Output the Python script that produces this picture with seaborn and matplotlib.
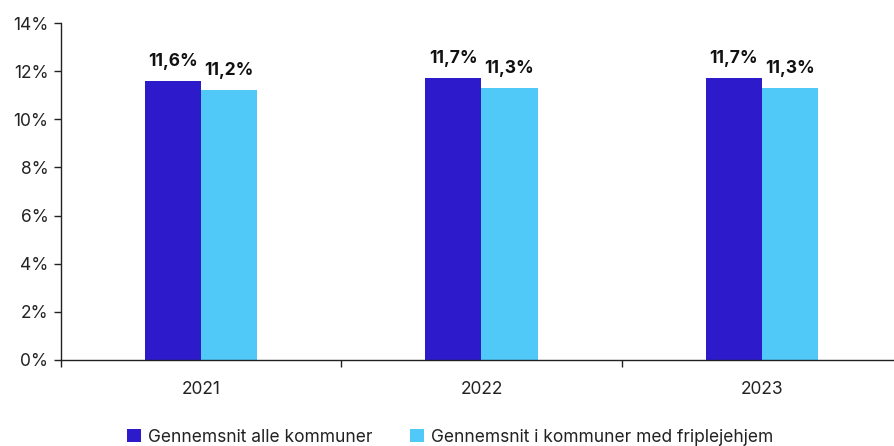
import matplotlib
matplotlib.use("Agg")
import matplotlib.pyplot as plt
import seaborn as sns
import pandas as pd
from matplotlib.ticker import FuncFormatter, FixedLocator
from matplotlib.patches import Patch

years = ["2021", "2022", "2023"]
series_names = ["Gennemsnit alle kommuner", "Gennemsnit i kommuner med friplejehjem"]
alle = [11.6, 11.7, 11.7]
fripleje = [11.2, 11.3, 11.3]
colors = ["#2C1ACB", "#50C9F9"]

sns.set_theme(style="white")
plt.rcParams["font.family"] = ["Inter", "DejaVu Sans"]

df = pd.DataFrame({
    "year": years * 2,
    "serie": [series_names[0]] * 3 + [series_names[1]] * 3,
    "value": alle + fripleje,
})

fig = plt.figure(figsize=(8.95, 4.46), dpi=100)
ax = fig.add_axes([61 / 895, 86 / 446, (902 - 61) / 895, (360 - 23) / 446])
sns.barplot(data=df, x="year", y="value", hue="serie", palette=colors,
            width=0.4, gap=0, saturation=1, ax=ax, legend=False, linewidth=0)

ax.set_ylim(0, 14)
ax.set_xlim(-0.5, 2.5)
ax.set_yticks(range(0, 15, 2))
ax.yaxis.set_major_formatter(FuncFormatter(lambda v, p: f"{int(v)}%"))
ax.set_xlabel("")
ax.set_ylabel("")
for s in ["top", "right"]:
    ax.spines[s].set_visible(False)
for s in ["left", "bottom"]:
    ax.spines[s].set_color("#222222")
    ax.spines[s].set_linewidth(1.0)
ax.tick_params(axis="y", which="major", left=True, length=5, width=1, color="#222222",
               labelsize=12.5, labelcolor="#222222", pad=4)
ax.tick_params(axis="x", which="major", bottom=False, labelsize=12.5, labelcolor="#222222", pad=9)
ax.xaxis.set_minor_locator(FixedLocator([-0.5, 0.5, 1.5]))
ax.tick_params(axis="x", which="minor", bottom=True, length=5, width=1, color="#222222")

for container in ax.containers:
    for bar in container:
        h = bar.get_height()
        ax.annotate(f"{h:.1f}%".replace(".", ","), (bar.get_x() + bar.get_width() / 2, h),
                    xytext=(0, 8), textcoords="offset points", ha="center", va="bottom",
                    fontsize=12.5, fontweight="bold", color="#111111")

handles = [Patch(facecolor=c, edgecolor="none") for c in colors]
fig.legend(handles, series_names, loc="center", bbox_to_anchor=(450 / 895, 1 - 437 / 446),
           ncol=2, frameon=False, fontsize=12.5, handlelength=0.8, handleheight=0.8,
           handletextpad=0.4, columnspacing=2.2, labelcolor="#222222")

fig.savefig("out.png", dpi=100)
